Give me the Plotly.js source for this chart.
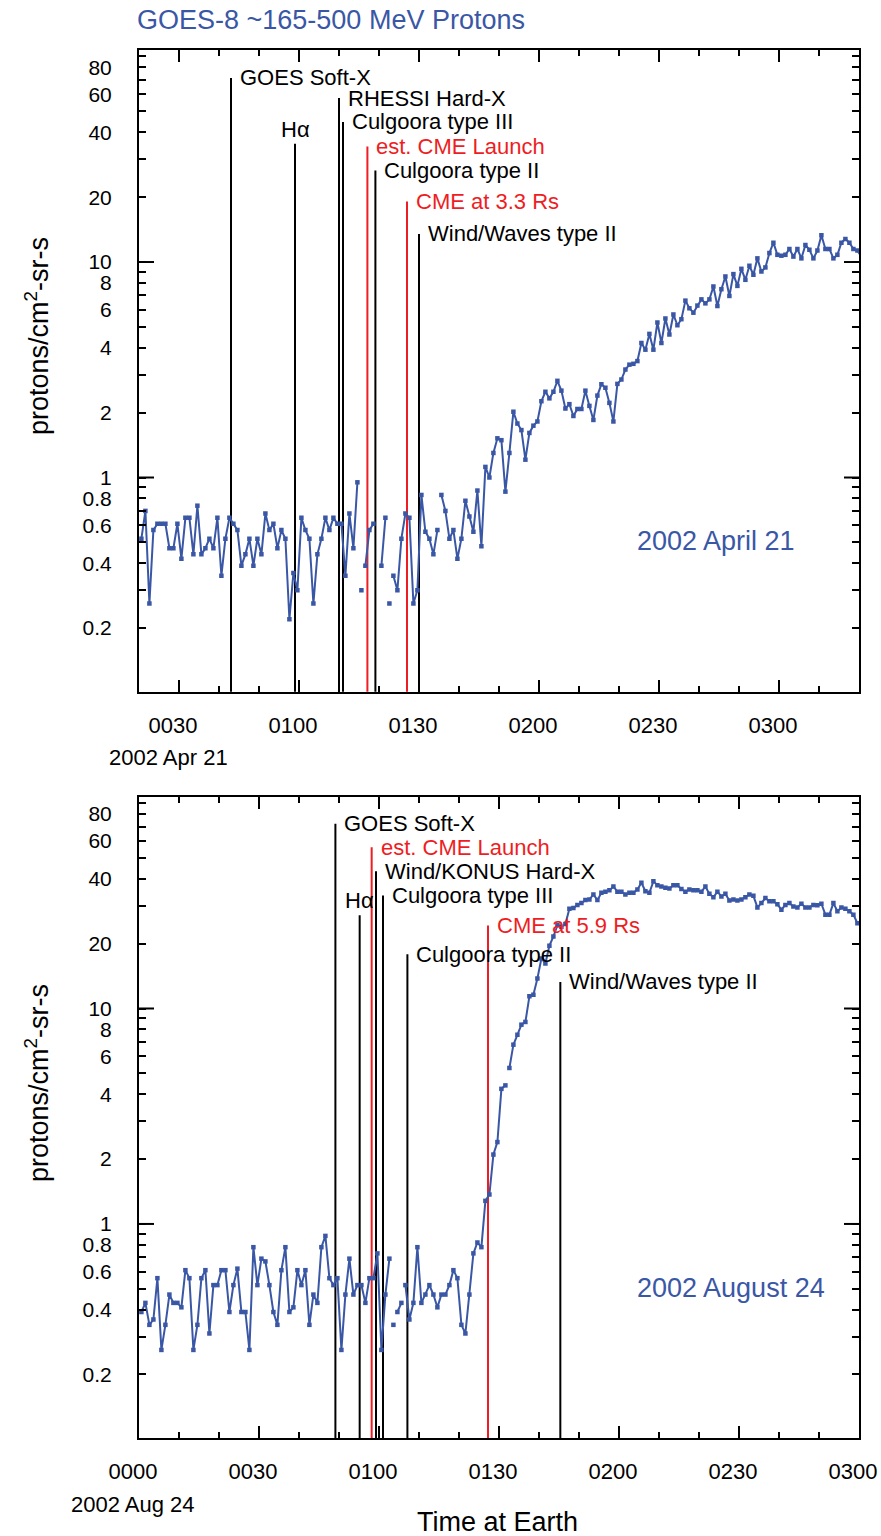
<!DOCTYPE html>
<html>
<head>
<meta charset="utf-8">
<script src="https://cdn.plot.ly/plotly-3.0.1.min.js"></script>
<style>
  html, body { margin: 0; padding: 0; background: #fff; }
  #chart { width: 881px; height: 1536px; }
</style>
</head>
<body>
<div id="chart"></div>
<script>
// GOES-8 ~165-500 MeV proton flux, one sample per minute (protons/cm2-sr-s)
const MINUTE = 60000;

const APR_START = Date.UTC(2002, 3, 21, 0, 20, 36);
const aprFlux = [
  0.52, 0.70, 0.26, 0.57, 0.61, 0.61, 0.61, 0.47, 0.47, 0.61,
  0.42, 0.65, 0.65, 0.44, 0.74, 0.44, 0.47, 0.52, 0.47, 0.65,
  0.35, 0.52, 0.65, 0.61, 0.57, 0.39, 0.44, 0.52, 0.39, 0.52,
  0.44, 0.68, 0.57, 0.61, 0.47, 0.57, 0.52, 0.22, 0.36, 0.30,
  0.65, 0.57, 0.52, 0.26, 0.44, 0.52, 0.65, 0.57, 0.65, 0.61,
  0.61, 0.35, 0.68, 0.47, 0.95, 0.30, 0.39, 0.57, 0.61, null,
  0.39, 0.65, 0.26, 0.35, 0.30, 0.52, 0.68, 0.65, 0.26, 0.30,
  0.83, 0.56, 0.52, 0.44, 0.57, 0.83, 0.70, 0.52, 0.57, 0.42,
  0.52, 0.78, 0.66, 0.56, 0.87, 0.48, 1.12, 1.00, 1.30, 1.52,
  1.49, 0.86, 1.30, 2.02, 1.78, 1.66, 1.21, 1.61, 1.74, 1.82,
  2.26, 2.50, 2.33, 2.50, 2.81, 2.53, 2.09, 2.19, 1.93, 2.08,
  2.08, 2.53, 2.15, 1.85, 2.40, 2.71, 2.61, 2.22, 1.82, 2.72,
  2.85, 3.17, 3.34, 3.37, 3.47, 4.21, 3.92, 4.64, 3.92, 5.24,
  4.21, 5.47, 4.61, 5.71, 5.09, 5.43, 6.62, 6.10, 5.82, 6.28,
  6.71, 6.43, 6.71, 7.70, 6.25, 7.48, 8.57, 6.96, 8.79, 7.75,
  9.30, 8.27, 9.61, 8.73, 10.4, 9.04, 9.44, 11.0, 12.3, 10.8,
  10.7, 10.8, 11.5, 10.6, 11.5, 10.4, 12.0, 11.4, 10.4, 11.3,
  13.3, 11.5, 11.5, 10.4, 10.8, 12.3, 12.8, 12.3, 11.5, 11.3,
  10.6,
];
// sample indices where the plotted line is interrupted
const aprBreaks = [55, 56, 62, 63, 75];

const AUG_START = Date.UTC(2002, 7, 24, 0, 0, 36);
const augFlux = [
  0.39, 0.43, 0.34, 0.36, 0.56, 0.26, 0.34, 0.47, 0.43, 0.43,
  0.41, 0.61, 0.56, 0.26, 0.34, 0.56, 0.61, 0.31, 0.52, 0.52,
  0.61, 0.61, 0.39, 0.52, 0.62, 0.39, 0.39, 0.26, 0.78, 0.52,
  0.69, 0.67, 0.52, 0.39, 0.34, 0.61, 0.78, 0.39, 0.41, 0.61,
  0.52, 0.61, 0.34, 0.47, 0.43, 0.78, 0.88, 0.56, 0.52, 0.56,
  0.26, 0.47, 0.69, 0.47, 0.52, 0.52, 0.43, 0.56, 0.56, 0.73,
  0.26, 0.47, 0.69, 0.34, 0.39, 0.43, 0.52, 0.36, 0.43, 0.78,
  0.43, 0.47, 0.52, 0.47, 0.41, 0.47, 0.47, 0.52, 0.61, 0.56,
  0.34, 0.31, 0.47, 0.73, 0.82, 0.78, 1.28, 1.37, 2.10, 2.40,
  4.24, 4.40, 5.30, 6.80, 7.56, 8.42, 8.67, 11.4, 11.6, 13.8,
  17.1, 16.2, 19.6, 21.6, 24.4, 24.0, 24.7, 29.1, 29.3, 30.3,
  30.9, 31.9, 32.1, 33.9, 31.9, 34.5, 34.9, 35.4, 36.9, 34.9,
  34.9, 33.9, 34.5, 34.5, 35.7, 38.4, 35.1, 34.5, 39.0, 37.4,
  36.9, 36.4, 36.1, 37.4, 37.4, 35.9, 34.9, 35.7, 35.4, 35.4,
  34.9, 36.9, 34.1, 32.9, 34.9, 33.2, 34.1, 31.8, 32.1, 31.8,
  32.1, 32.9, 33.9, 33.4, 29.5, 30.9, 32.6, 31.5, 31.5, 30.5,
  28.8, 30.3, 30.9, 29.8, 29.5, 30.7, 29.5, 29.5, 30.3, 30.2,
  30.7, 27.3, 27.3, 30.9, 28.3, 29.5, 29.1, 28.3, 27.3, 24.9,
];
const augBreaks = [63, 64, 66, 92];

// event markers: onset time and the flux level where each marker stops
const aprEventNames = ["GOES Soft-X", "Hα", "RHESSI Hard-X", "Culgoora type III",
  "est. CME Launch", "Culgoora type II", "CME at 3.3 Rs", "Wind/Waves type II"];
const aprEventTimes = ["2002-04-21 00:43:00", "2002-04-21 00:59:00", "2002-04-21 01:10:00",
  "2002-04-21 01:11:00", "2002-04-21 01:17:06", "2002-04-21 01:19:06",
  "2002-04-21 01:27:00", "2002-04-21 01:30:00"];
const aprEventTops = [71.5, 35.4, 57.7, 44.7, 34.4, 26.6, 19.1, 13.5];
const aprEventKinds = ["radio", "radio", "radio", "radio", "cme", "radio", "cme", "radio"];

const augEventNames = ["GOES Soft-X", "Hα", "est. CME Launch", "Wind/KONUS Hard-X",
  "Culgoora type III", "Culgoora type II", "CME at 5.9 Rs", "Wind/Waves type II"];
const augEventTimes = ["2002-08-24 00:49:06", "2002-08-24 00:55:10", "2002-08-24 00:58:10",
  "2002-08-24 00:59:15", "2002-08-24 01:01:00", "2002-08-24 01:07:06",
  "2002-08-24 01:27:15", "2002-08-24 01:45:20"];
const augEventTops = [72.1, 27.1, 56.1, 43.4, 33.5, 17.9, 24.3, 13.3];
const augEventKinds = ["radio", "radio", "cme", "radio", "radio", "radio", "cme", "radio"];

const fluxTickVals = [0.2, 0.4, 0.6, 0.8, 1, 2, 4, 6, 8, 10, 20, 40, 60, 80];
const fluxTickText = ["0.2", "0.4", "0.6", "0.8", "1", "2", "4", "6", "8", "10", "20", "40", "60", "80"];
const fluxMinorVals = [0.3, 0.5, 0.7, 0.9, 3, 5, 7, 9, 30, 50, 70, 90];

const BLUE = "#3a57a6";
const KIND_COLORS = { radio: "#000000", cme: "#ee1d23" };
const FONT = "Liberation Sans, Arial, Helvetica, sans-serif";

// page geometry (pixels)
const W = 881, H = 1536;
const M = { l: 139, r: 22, t: 50, b: 98 };
const px = (x) => (x - M.l) / (W - M.l - M.r);
const py = (y) => (H - M.b - y) / (H - M.t - M.b);

function toDateString(ms) {
  return new Date(ms).toISOString().replace("T", " ").slice(0, 19);
}

function buildSeries(start, values, breaks) {
  const x = [];
  const y = [];
  values.forEach((value, index) => {
    const t = start + index * MINUTE;
    if (breaks.includes(index)) {
      x.push(toDateString(t - MINUTE / 2));
      y.push(null);
    }
    x.push(toDateString(t));
    y.push(value);
  });
  return { x, y };
}

function fluxTrace(series, xaxis, yaxis) {
  return {
    type: "scatter",
    mode: "lines+markers",
    x: series.x,
    y: series.y,
    xaxis,
    yaxis,
    connectgaps: false,
    line: { color: BLUE, width: 2 },
    marker: { color: BLUE, size: 4.5, symbol: "square" },
    hoverinfo: "x+y",
    showlegend: false,
  };
}

function eventTraces(names, times, tops, kinds, xaxis, yaxis) {
  return names.map((name, i) => ({
    type: "scatter",
    mode: "lines",
    x: [times[i], times[i]],
    y: [0.05, tops[i]],
    xaxis,
    yaxis,
    line: { color: KIND_COLORS[kinds[i]], width: 2 },
    name,
    hoverinfo: "skip",
    showlegend: false,
  }));
}

function eventLabels(names, times, tops, kinds, xref, yref) {
  return names.map((name, i) => {
    const above = name === "Hα";
    return {
      xref,
      yref,
      x: times[i],
      y: Math.log10(tops[i]),
      text: name,
      showarrow: false,
      xanchor: above ? "center" : "left",
      yanchor: above ? "bottom" : "middle",
      xshift: above ? 0 : 7,
      font: { family: FONT, size: 22, color: KIND_COLORS[kinds[i]] },
    };
  });
}

function decadeTicks(yref) {
  const shapes = [];
  [1, 10].forEach((value) => {
    [[0, 0, 15], [1, -15, 0]].forEach(([anchor, x0, x1]) => {
      shapes.push({
        type: "line",
        xref: "paper",
        xsizemode: "pixel",
        xanchor: anchor,
        x0,
        x1,
        yref,
        y0: value,
        y1: value,
        line: { color: "black", width: 2 },
      });
    });
  });
  return shapes;
}

function timeAxis(range, anchor) {
  return {
    type: "date",
    range,
    domain: [0, 1],
    anchor,
    tick0: range[0].slice(0, 10) + " 00:00",
    dtick: 30 * MINUTE,
    tickformat: "%H%M",
    ticks: "inside",
    ticklen: 12,
    tickwidth: 2,
    tickcolor: "black",
    minor: { dtick: 10 * MINUTE, ticks: "inside", ticklen: 6, tickwidth: 2, tickcolor: "black" },
    showline: true,
    linewidth: 2,
    linecolor: "black",
    mirror: "ticks",
    showgrid: false,
    zeroline: false,
    ticklabelstandoff: 13,
    ticklabelshift: -6,
    tickfont: { family: FONT, size: 22, color: "black" },
  };
}

function fluxAxis(domain, anchor) {
  return {
    type: "log",
    range: [-0.994, 1.984],
    domain,
    anchor,
    tickmode: "array",
    tickvals: fluxTickVals,
    ticktext: fluxTickText,
    ticks: "inside",
    ticklen: 7,
    tickwidth: 2,
    tickcolor: "black",
    minor: { tickmode: "array", tickvals: fluxMinorVals, ticks: "inside", ticklen: 7, tickwidth: 2, tickcolor: "black" },
    showline: true,
    linewidth: 2,
    linecolor: "black",
    mirror: "ticks",
    showgrid: false,
    zeroline: false,
    ticklabelstandoff: 21,
    tickfont: { family: FONT, size: 21, color: "black" },
  };
}

const traces = [
  ...eventTraces(aprEventNames, aprEventTimes, aprEventTops, aprEventKinds, "x", "y"),
  fluxTrace(buildSeries(APR_START, aprFlux, aprBreaks), "x", "y"),
  ...eventTraces(augEventNames, augEventTimes, augEventTops, augEventKinds, "x2", "y2"),
  fluxTrace(buildSeries(AUG_START, augFlux, augBreaks), "x2", "y2"),
];

const yTitle = "protons/cm<sup>2</sup>-sr-s";
const textAnnotation = (text, x, y, size, color, xanchor) => ({
  xref: "paper",
  yref: "paper",
  x: px(x),
  y: py(y),
  text,
  showarrow: false,
  xanchor: xanchor || "center",
  yanchor: "middle",
  font: { family: FONT, size, color },
});

const layout = {
  width: W,
  height: H,
  paper_bgcolor: "white",
  plot_bgcolor: "white",
  margin: M,
  showlegend: false,
  font: { family: FONT, color: "black" },
  title: {
    text: "GOES-8 ~165-500 MeV Protons",
    xref: "container",
    yref: "container",
    x: 137 / W,
    xanchor: "left",
    y: 1 - 20 / H,
    yanchor: "middle",
    font: { family: FONT, size: 27, color: BLUE },
  },
  xaxis: timeAxis(["2002-04-21 00:20", "2002-04-21 03:20"], "y"),
  yaxis: fluxAxis([py(691.7), 1], "x"),
  xaxis2: timeAxis(["2002-08-24 00:00", "2002-08-24 03:00"], "y2"),
  yaxis2: fluxAxis([0, py(796.7)], "x2"),
  shapes: [...decadeTicks("y"), ...decadeTicks("y2")],
  annotations: [
    ...eventLabels(aprEventNames, aprEventTimes, aprEventTops, aprEventKinds, "x", "y"),
    ...eventLabels(augEventNames, augEventTimes, augEventTops, augEventKinds, "x2", "y2"),
    { ...textAnnotation(yTitle, 37, 336, 27, "black"), textangle: -90 },
    { ...textAnnotation(yTitle, 37, 1083, 27, "black"), textangle: -90 },
    textAnnotation("2002 April 21", 635, 541, 27, BLUE, "left"),
    textAnnotation("2002 August 24", 635, 1288, 27, BLUE, "left"),
    textAnnotation("2002 Apr 21", 168, 757, 22, "black"),
    textAnnotation("2002 Aug 24", 133, 1504, 22, "black"),
    textAnnotation("Time at Earth", 497, 1522, 27, "black"),
  ],
};

Plotly.newPlot("chart", traces, layout, { displayModeBar: false, staticPlot: true });
</script>
</body>
</html>
